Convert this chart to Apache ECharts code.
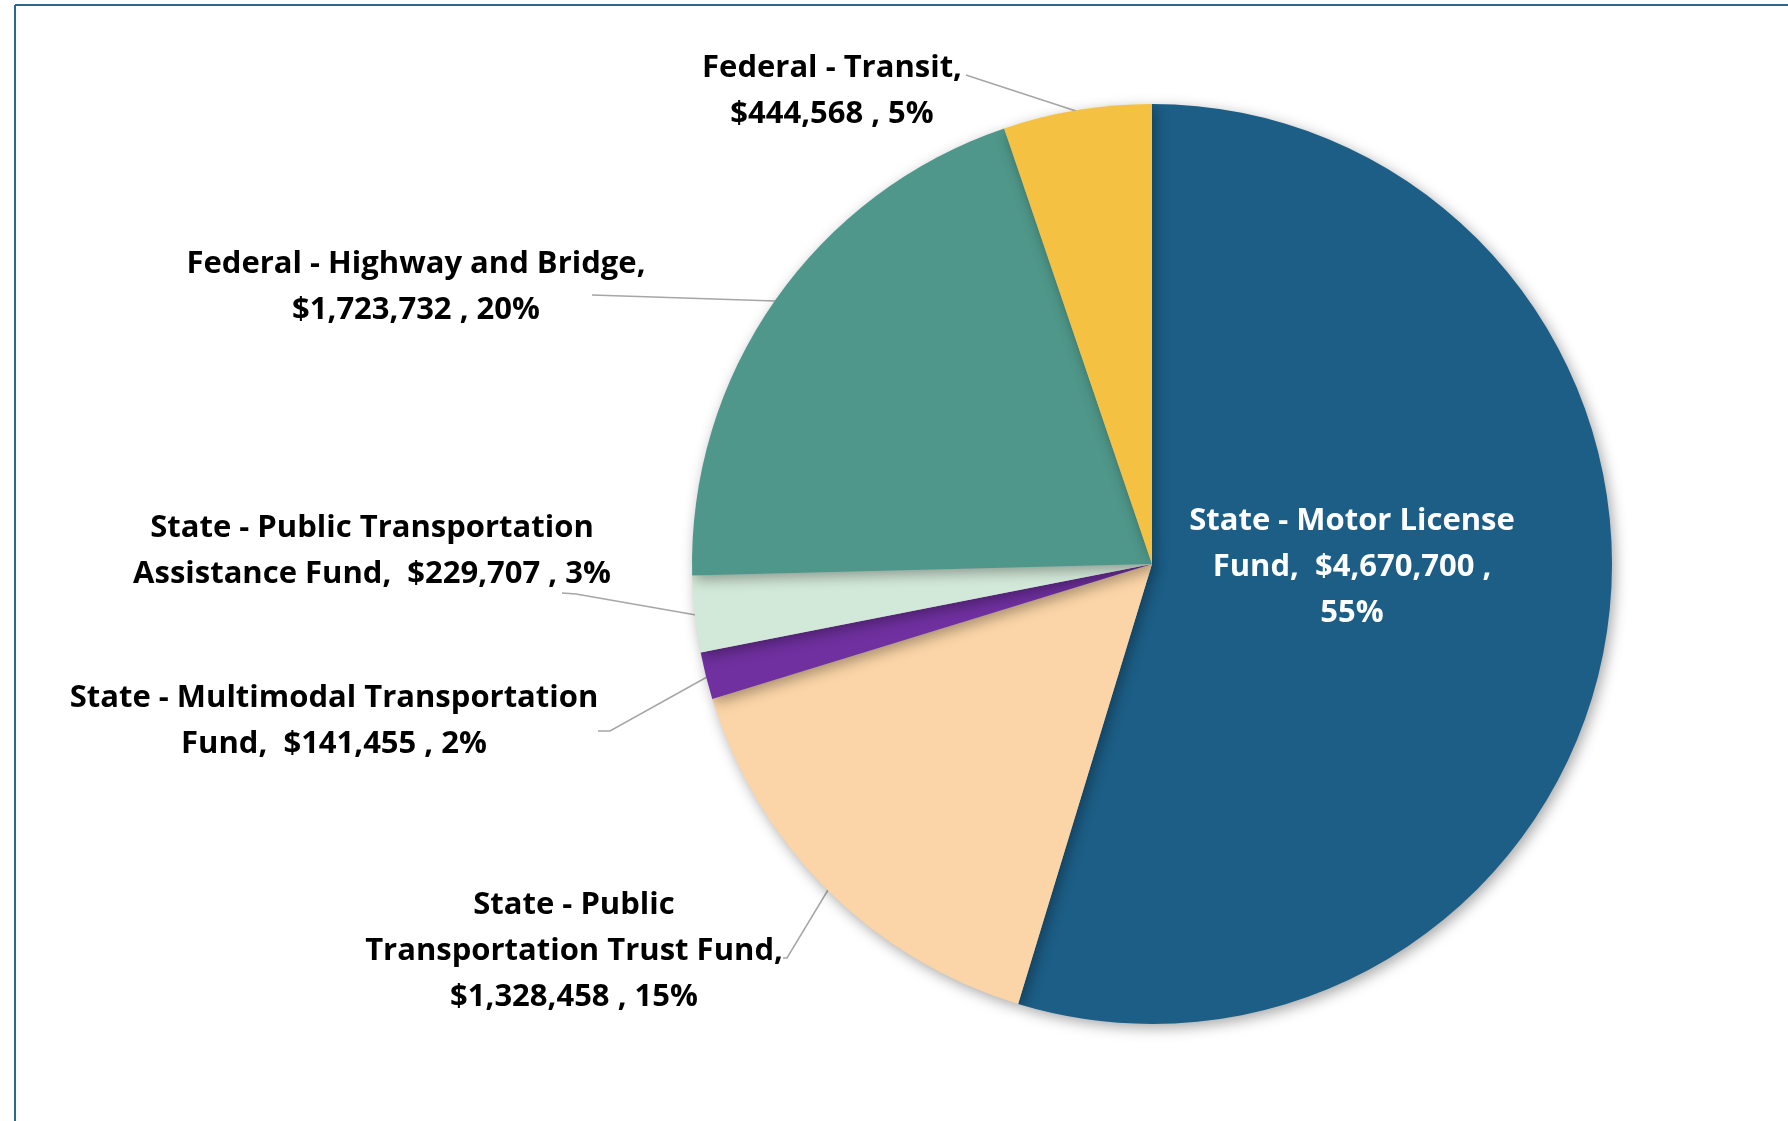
<!DOCTYPE html>
<html>
<head>
<meta charset="utf-8">
<script src="https://cdn.jsdelivr.net/npm/echarts@6/dist/echarts.min.js"></script>
<style>
html,body{margin:0;padding:0;background:#fff;}
#chart{width:1788px;height:1121px;}
</style>
</head>
<body>
<div id="chart"></div>
<script>
// Data
const categories = [
  "State - Motor License Fund",
  "State - Public Transportation Trust Fund",
  "State - Multimodal Transportation Fund",
  "State - Public Transportation Assistance Fund",
  "Federal - Highway and Bridge",
  "Federal - Transit"
];
const values = [4670700, 1328458, 141455, 229707, 1723732, 444568];
const colors = ["#1c5e86", "#fbd5a7", "#7030a0", "#d2e8d8", "#4f978a", "#f4c142"];
// line-wrapped label templates ({v} = value, {p} = percent)
const labelTemplates = [
  "State - Motor License\nFund,  {v} ,\n{p}%",
  "State - Public\nTransportation Trust Fund,\n{v} , {p}%",
  "State - Multimodal Transportation\nFund,  {v} , {p}%",
  "State - Public Transportation\nAssistance Fund,  {v} , {p}%",
  "Federal - Highway and Bridge,\n{v} , {p}%",
  "Federal - Transit,\n{v} , {p}%"
];
// label placement (layout only)
const labelPos = [
  {x: 1352, y: 567, line: null},
  {x: 574, y: 951, line: [[828, 890], [787, 958], [783, 958]]},
  {x: 334, y: 721, line: [[707, 677], [610, 731], [598, 731]]},
  {x: 372, y: 551, line: [[696, 615], [576, 594], [562, 593]]},
  {x: 416, y: 287, line: [[775, 301], [592, 295]]},
  {x: 832, y: 91, line: [[1076, 111], [975, 78], [966, 75]]}
];

const fmtMoney = v => "$" + v.toLocaleString("en-US");

const chart = echarts.init(document.getElementById("chart"));
chart.setOption({
  animation: false,
  graphic: [
    {type: "line", shape: {x1: 15, y1: 5, x2: 1788, y2: 5}, style: {stroke: "#2a6893", lineWidth: 2}},
    {type: "line", shape: {x1: 15, y1: 5, x2: 15, y2: 1121}, style: {stroke: "#2a6893", lineWidth: 2}}
  ],
  series: [{
    type: "pie",
    center: [1152, 564],
    radius: [0, 460],
    startAngle: 90,
    clockwise: true,
    percentPrecision: 0,
    data: categories.map((n, i) => ({
      name: n,
      value: values[i],
      itemStyle: {color: colors[i]},
      label: i === 0 ? {position: "inside", color: "#ffffff"} : {},
      labelLine: {show: i !== 0}
    })),
    itemStyle: {
      shadowBlur: 14,
      shadowColor: "rgba(0,0,0,0.35)",
      shadowOffsetX: 3,
      shadowOffsetY: 4
    },
    label: {
      show: true,
      position: "outside",
      fontFamily: "Open Sans",
      fontWeight: "bold",
      fontSize: 31,
      lineHeight: 46,
      color: "#000000",
      align: "center",
      formatter: p => labelTemplates[p.dataIndex]
        .replace("{v}", fmtMoney(p.value))
        .replace("{p}", p.percent)
    },
    labelLine: {
      show: true,
      lineStyle: {color: "#a6a6a6", width: 1.5}
    },
    labelLayout: function (params) {
      const lp = labelPos[params.dataIndex];
      const r = {x: lp.x, y: lp.y, align: "center", verticalAlign: "middle"};
      if (lp.line) r.labelLinePoints = lp.line;
      return r;
    }
  }]
});
</script>
</body>
</html>
